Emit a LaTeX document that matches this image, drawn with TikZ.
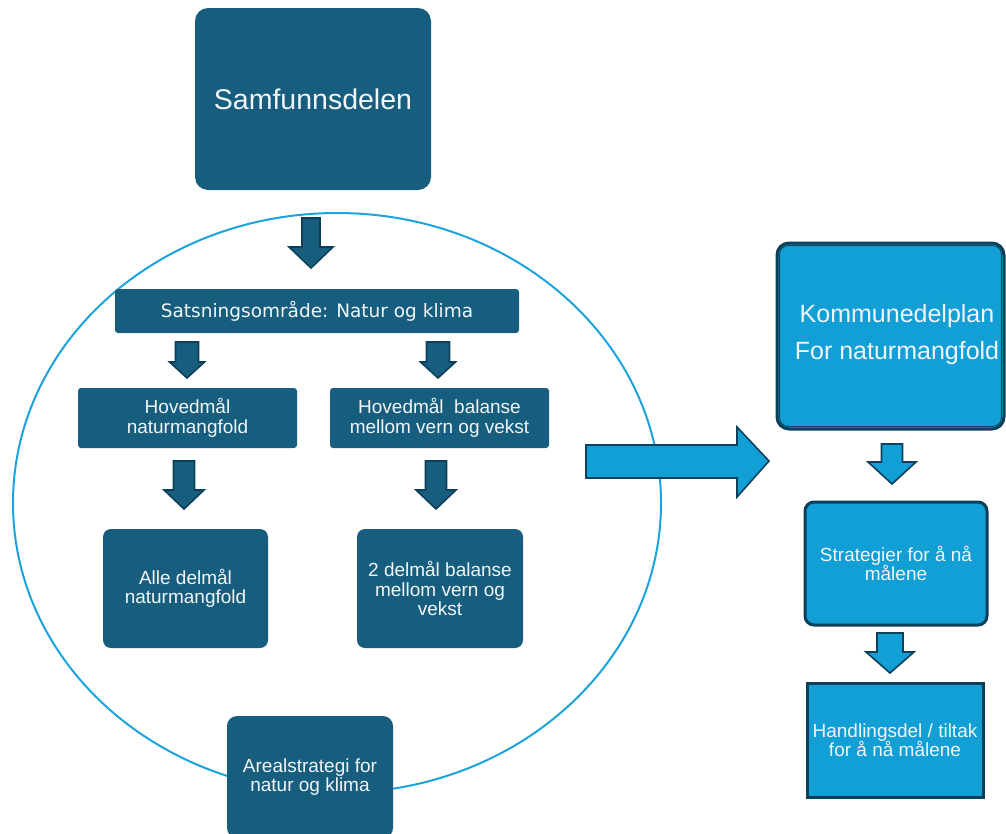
\documentclass[tikz,border=0pt]{standalone}
\usepackage{fontspec}
\setmainfont{Liberation Sans}
\newfontfamily\satfont{DejaVu Sans}
\usetikzlibrary{calc}
\definecolor{dteal}{HTML}{175E7E}
\definecolor{lblue}{HTML}{129FD6}
\definecolor{dborder}{HTML}{0B3F5A}
\definecolor{ring}{HTML}{1CA3DC}
\definecolor{txt}{HTML}{F2F5F7}
\newcommand{\DArrow}[7]{\draw[#1] ({#2-#3},#5) -- ({#2+#3},#5) -- ({#2+#3},#6) -- ({#2+#4},#6) -- (#2,#7) -- ({#2-#4},#6) -- ({#2-#3},#6) -- cycle;}
\begin{document}
\begin{tikzpicture}[x=1pt,y=-1pt,
  darkbox/.style={fill=dteal, draw=none, text=txt, align=center, inner sep=0pt},
  lightbox/.style={fill=lblue, draw=dborder, line width=3pt, text=txt, align=center, inner sep=0pt},
  darrow/.style={fill=dteal, draw=dborder, line width=1.6pt, line join=miter},
  larrow/.style={fill=lblue, draw=dborder, line width=1.6pt, line join=miter},
  mid/.style={font=\fontsize{19}{19.5}\selectfont}]
\useasboundingbox (0,0) rectangle (1006,833);
\clip (0,0) rectangle (1006,833);

% ring
\draw[ring, line width=2pt] (337,503) ellipse [x radius=324pt, y radius=290pt];

% left column boxes
\node[darkbox, rounded corners=13pt, minimum width=236pt, minimum height=182pt,
  font=\fontsize{28.5}{34}\selectfont] (sam) at (313,99) {Samfunnsdelen};
\node[darkbox, rounded corners=3pt, minimum width=404pt, minimum height=44pt,
  font=\satfont\fontsize{18.5}{22}\selectfont] (sat) at (317,311) {Satsningsområde: Natur og klima};
\node[darkbox, mid, rounded corners=3pt, minimum width=219pt, minimum height=60pt] (hov1) at (187.5,418) {Hovedmål\\naturmangfold};
\node[darkbox, mid, rounded corners=3pt, minimum width=219pt, minimum height=60pt] (hov2) at (439.5,418) {Hovedmål~~balanse\\mellom vern og vekst};
\node[darkbox, mid, rounded corners=8pt, minimum width=165pt, minimum height=119pt] (del1) at (185.5,588.5) {Alle delmål\\naturmangfold};
\node[darkbox, mid, rounded corners=8pt, minimum width=166pt, minimum height=119pt] (del2) at (440,588.5) {2 delmål balanse\\mellom vern og\\vekst};
\node[darkbox, mid, rounded corners=10pt, minimum width=166pt, minimum height=122pt] (areal) at (310,777) {Arealstrategi for\\natur og klima};

% right column boxes
\node[lightbox, rounded corners=12pt, minimum width=227pt, minimum height=186pt] (kom) at (890.5,336) {};
\draw[dborder, line width=0.8pt, rounded corners=9pt] ($(kom.north west)+(4,4)$) rectangle ($(kom.south east)+(-4,-4)$);
\node[text=txt, align=center, inner sep=0pt, font=\fontsize{25}{37}\selectfont] (komt) at (897,335) {Kommunedelplan\\For naturmangfold};
\node[lightbox, mid, rounded corners=9pt, minimum width=182pt, minimum height=123pt] (strat) at (896,563.5) {Strategier for å nå\\målene};
\node[lightbox, mid, minimum width=176pt, minimum height=114pt] (hand) at (895,740) {Handlingsdel / tiltak\\for å nå målene};

% block arrows
\DArrow{darrow}{311}{9}{22}{218}{247}{268}
\DArrow{darrow}{187}{11.5}{17.5}{342}{362}{378}
\DArrow{darrow}{438}{11.5}{17.5}{342}{362}{378}
\DArrow{darrow}{184}{10.5}{20}{461}{490}{509}
\DArrow{darrow}{436}{10.5}{20}{461}{490}{509}
\DArrow{larrow}{892}{10.5}{24}{444}{462}{484}
\DArrow{larrow}{890}{13}{24}{633}{652}{673}
\draw[larrow] (586,445) -- (737,445) -- (737,427) -- (769,461) -- (737,497) -- (737,478) -- (586,478) -- cycle;
\end{tikzpicture}
\end{document}
